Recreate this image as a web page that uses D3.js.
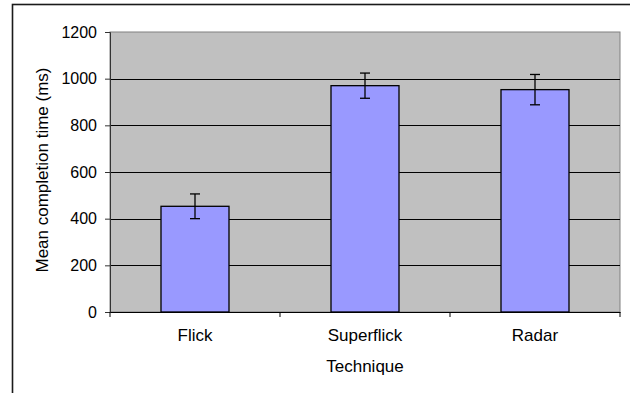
<!DOCTYPE html>
<html>
<head>
<meta charset="utf-8">
<script src="https://cdn.jsdelivr.net/npm/d3@7"></script>
<style>
  html, body { margin: 0; padding: 0; background: #fff; }
  svg { display: block; }
  text { font-family: "Liberation Sans", Arial, sans-serif; fill: #000; }
</style>
</head>
<body>
<svg id="chart" width="630" height="393"></svg>
<script>
const categories = ["Flick", "Superflick", "Radar"];
const meanTimes = [453, 970, 953];
const errors = [53, 54, 65];
const yTicks = [0, 200, 400, 600, 800, 1000, 1200];
const xTitle = "Technique";
const yTitle = "Mean completion time (ms)";

const data = categories.map((c, i) => ({ cat: c, mean: meanTimes[i], err: errors[i] }));

const svg = d3.select("#chart");
const plot = { left: 110, right: 620, top: 32, bottom: 312 };

// outer chart border (only top/left visible)
svg.append("rect")
  .attr("x", 12.5).attr("y", 4.5)
  .attr("width", 640).attr("height", 420)
  .attr("fill", "none").attr("stroke", "#1a1a1a").attr("stroke-width", 1.6);

const x = d3.scaleBand().domain(categories)
  .range([plot.left, plot.right]).paddingInner(0.6).paddingOuter(0.3);
const y = d3.scaleLinear().domain([0, 1200]).range([plot.bottom, plot.top]);

// plot background
svg.append("rect")
  .attr("x", plot.left).attr("y", plot.top)
  .attr("width", plot.right - plot.left).attr("height", plot.bottom - plot.top)
  .attr("fill", "#C0C0C0").attr("stroke", "#808080").attr("stroke-width", 1);

// gridlines
svg.append("g").selectAll("line").data(yTicks.filter(t => t > 0 && t < 1200)).join("line")
  .attr("x1", plot.left).attr("x2", plot.right)
  .attr("y1", d => Math.round(y(d)) + 0.5).attr("y2", d => Math.round(y(d)) + 0.5)
  .attr("stroke", "#000").attr("stroke-width", 1);

// bars
svg.append("g").selectAll("rect").data(data).join("rect")
  .attr("x", d => x(d.cat)).attr("y", d => y(d.mean))
  .attr("width", x.bandwidth()).attr("height", d => y(0) - y(d.mean))
  .attr("fill", "#9999FF").attr("stroke", "#000").attr("stroke-width", 1.3);

// error bars
const eb = svg.append("g").attr("stroke", "#000").attr("stroke-width", 1.3);
data.forEach(d => {
  const cx = x(d.cat) + x.bandwidth() / 2;
  const t = y(d.mean + d.err), b = y(d.mean - d.err);
  eb.append("line").attr("x1", cx).attr("x2", cx).attr("y1", t).attr("y2", b);
  eb.append("line").attr("x1", cx - 5).attr("x2", cx + 5).attr("y1", t).attr("y2", t);
  eb.append("line").attr("x1", cx - 5).attr("x2", cx + 5).attr("y1", b).attr("y2", b);
});

// y axis
const yAxis = svg.append("g").attr("transform", `translate(${plot.left},0)`)
  .call(d3.axisLeft(y).tickValues(yTicks).tickSize(5).tickPadding(8).tickFormat(d3.format("d")));
yAxis.select(".domain").attr("stroke", "#333");
yAxis.selectAll(".tick line").attr("stroke", "#333");
yAxis.selectAll("text").attr("font-size", 16).attr("font-family", "Liberation Sans, Arial, sans-serif").attr("fill", "#000");

// x axis
const xAxis = svg.append("g").attr("transform", `translate(0,${plot.bottom})`)
  .call(d3.axisBottom(x).tickSize(0).tickPadding(17));
xAxis.select(".domain").attr("stroke", "#000");
xAxis.selectAll("text").attr("font-size", 17).attr("font-family", "Liberation Sans, Arial, sans-serif").attr("fill", "#000");
// category boundary tick marks
const bounds = [plot.left].concat(categories.map(c => x(c) + x.bandwidth() / 2 + x.step() / 2));
svg.append("g").selectAll("line").data(bounds).join("line")
  .attr("x1", d => d).attr("x2", d => d)
  .attr("y1", plot.bottom).attr("y2", plot.bottom + 5)
  .attr("stroke", "#000").attr("stroke-width", 1);

// titles
svg.append("text").attr("x", (plot.left + plot.right) / 2).attr("y", 372)
  .attr("text-anchor", "middle").attr("font-size", 17).text(xTitle);
svg.append("text").attr("transform", `translate(48,170) rotate(-90)`)
  .attr("text-anchor", "middle").attr("font-size", 17).text(yTitle);
</script>
</body>
</html>
